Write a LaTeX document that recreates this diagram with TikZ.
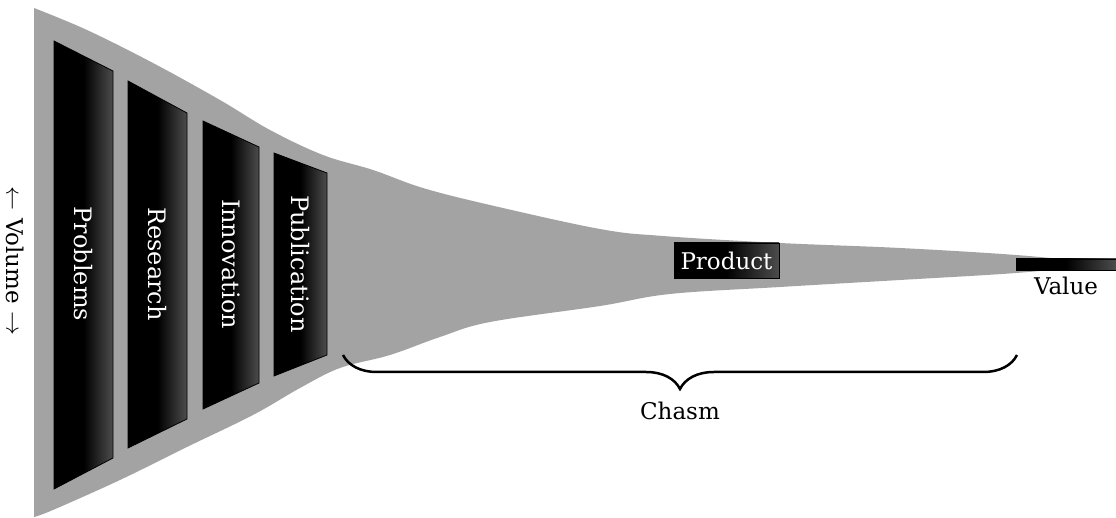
\documentclass[tikz,border=0pt]{standalone}
\usepackage{fontspec}
\setmainfont{DejaVu Serif}
\usetikzlibrary{decorations.pathreplacing,positioning}

% black that fades to dark grey on the right
\pgfdeclarehorizontalshading{darkfade}{100bp}{color(0bp)=(black); color(25bp)=(black); color(50bp)=(black); color(75bp)=(black!70); color(100bp)=(black!70)}

\tikzset{
  funnel/.style={fill=black!36},
  stagebox/.style={shading=darkfade, draw=black, line width=0.4pt},
  stagelabel/.style={text=white, rotate=-90, font=\fontsize{12}{14}\selectfont},
  darkbox/.style={rectangle, shading=darkfade, draw=black, line width=0.4pt, inner sep=0pt},
  plainlabel/.style={font=\fontsize{11.5}{13}\selectfont},
  chasmbrace/.style={decorate, decoration={brace, mirror, amplitude=17pt}, line width=1.25pt}
}

\begin{document}
\begin{tikzpicture}[x=0.5pt, y=-0.5pt]
\useasboundingbox (0,0) rectangle (1116,518);

% the funnel
\fill[funnel] (34,8)
  plot[smooth, tension=0.6] coordinates {(34,8) (87,30) (153,63) (220,100) (270,130) (323,155) (373,170) (423,188) (490,205) (600,229) (663,236) (780,243) (900,248) (1016,255) (1100,263)}
  -- plot[smooth, tension=0.6] coordinates {(1100,265) (1016,273) (900,280) (780,287) (670,294) (600,306) (490,322) (440,337) (390,355) (340,368) (300,388) (253,415) (187,447) (120,480) (53,510) (34,517)}
  -- cycle;

% stages inside the funnel
\foreach \name/\xa/\xb/\ytl/\ytr/\ybr/\ybl/\txt in {
    problems/54/113/41/71/458/489/Problems,
    research/128/187/81/113/419/448/Research,
    innovation/203/259/121/147/383/409/Innovation,
    publication/274/327/153/173/355/376/Publication} {
  \shade[stagebox] (\xa,\ytl) -- (\xb,\ytr) -- (\xb,\ybr) -- (\xa,\ybl) -- cycle;
  \node[stagelabel] (\name) at ({(\xa+\xb)/2},264) {\txt};
}

\node[darkbox, minimum width=52.5pt, minimum height=17.5pt, text=white, plainlabel] (product) at (726.5,260.5) {Product};

\node[darkbox, minimum width=50pt, minimum height=5.5pt] (valuebar) at (1066,264.5) {};
\node[plainlabel, below=0pt of valuebar] (value) {Value};

\node[plainlabel, rotate=-90] (volume) at (15,261) {$\leftarrow$ Volume $\rightarrow$};

% the gap between publication and value
\coordinate (chasmL) at (343,355);
\coordinate (chasmR) at (1017,355);
\draw[chasmbrace] (chasmL) -- (chasmR);
\node[plainlabel] (chasm) at (680,411) {Chasm};
\end{tikzpicture}
\end{document}
